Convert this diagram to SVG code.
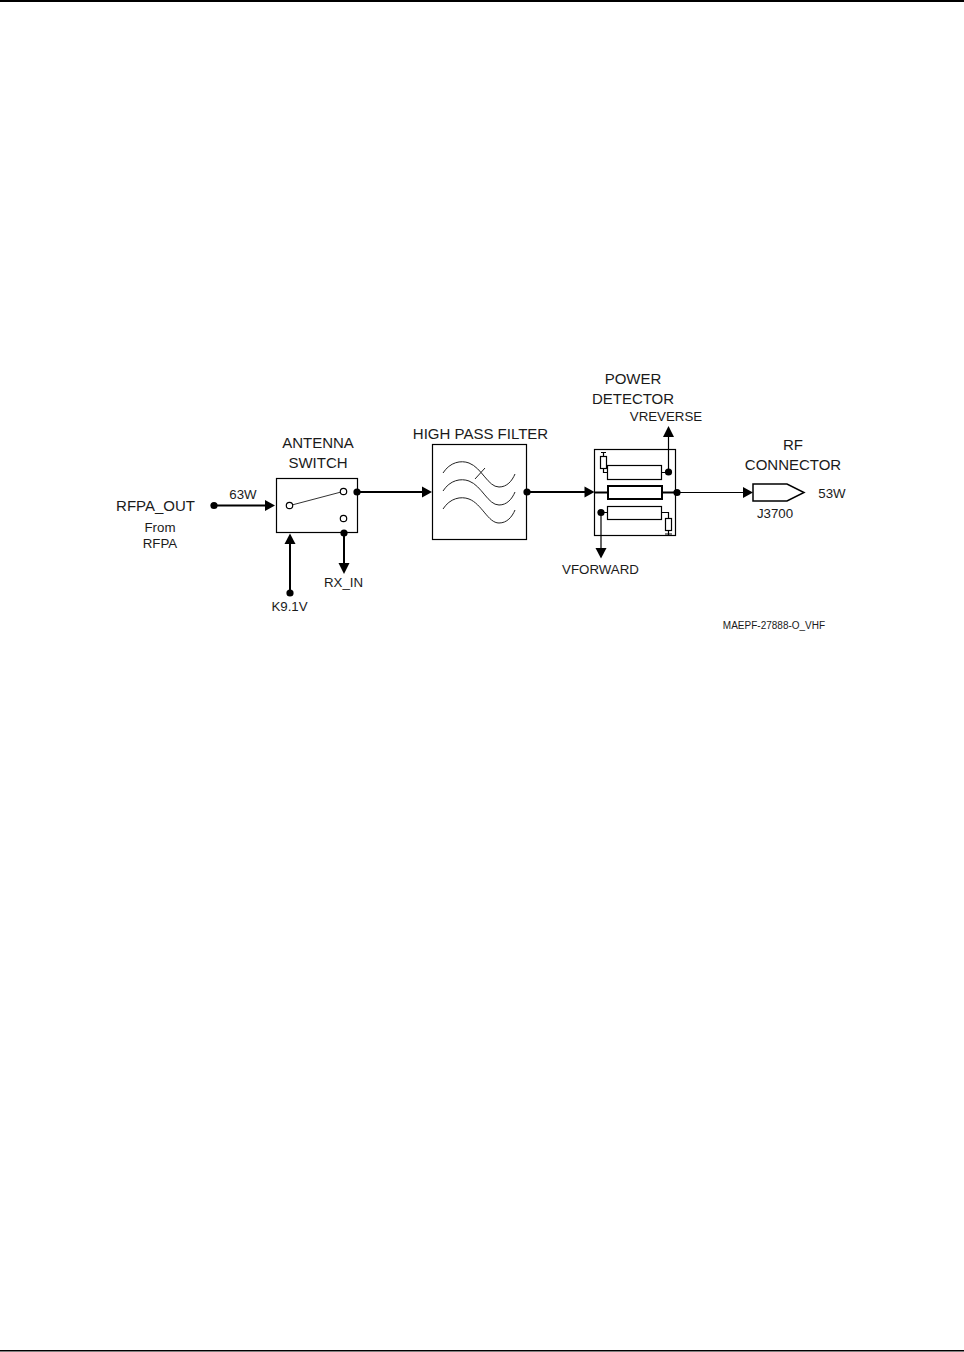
<svg xmlns="http://www.w3.org/2000/svg" width="964" height="1352" viewBox="0 0 964 1352">
<defs>
<style>
text{font-family:"Liberation Sans",Arial,sans-serif;fill:#1a1a1a;text-anchor:middle}
.l{font-size:15px}.m{font-size:14px}.s{font-size:13.3px}.t{font-size:10px}
.box{fill:#fff;stroke:#000;stroke-width:1.2}
.w{fill:none;stroke:#000;stroke-width:2}
.w1{fill:none;stroke:#000;stroke-width:1.2}
.o{fill:#fff;stroke:#000;stroke-width:1.2}
.curve{fill:none;stroke:#222;stroke-width:1}
</style>
<circle id="dot" r="3.6" fill="#000"/>
</defs>
<rect width="964" height="1352" fill="#fff"/>
<g id="page-rules"><rect x="0" y="0" width="964" height="2" fill="#000"/><rect x="0" y="1350" width="964" height="1.5" fill="#000"/></g>

<g id="antenna-switch">
<rect class="box" x="276.500" y="478.500" width="81" height="54"/>
<line x1="290" y1="505.500" x2="343" y2="491.500" stroke="#333" stroke-width="1"/>
<circle class="o" cx="289.500" cy="505.500" r="3.200"/>
<circle class="o" cx="343.500" cy="491.500" r="3.200"/>
<circle class="o" cx="343.500" cy="518.500" r="3.200"/>
<text class="l" x="318" y="447.500">ANTENNA</text>
<text class="l" x="318" y="467.500">SWITCH</text>
</g>

<g id="high-pass-filter">
<rect class="box" x="432.500" y="444.500" width="94" height="95"/>
<path class="curve" d="M443 473C450 462 461 460 469 463C482 468 488 487 499 487C507 487 512 481 515 474"/>
<path class="curve" d="M443 491C450 480 461 478 469 481C482 486 488 505 499 505C507 505 512 499 515 492"/>
<path class="curve" d="M443 509C450 498 461 496 469 499C482 504 488 523 499 523C507 523 512 517 515 510"/>
<line class="curve" x1="475" y1="479" x2="485" y2="468"/>
<text class="l" x="480.500" y="438.500">HIGH PASS FILTER</text>
</g>

<g id="power-detector">
<rect class="box" x="594.500" y="449.500" width="81" height="86"/>
<rect class="w1" x="607.500" y="465.500" width="54" height="14"/>
<rect fill="#fff" stroke="#000" stroke-width="2" x="608" y="486" width="54" height="13"/>
<rect class="w1" x="607.500" y="506.500" width="54" height="13"/>
<rect class="w1" x="600.500" y="456.500" width="6" height="12"/>
<rect class="w1" x="665.500" y="518.500" width="6" height="12"/>
<path class="w1" d="M603.500 452V456.500M603.500 468.500V472.500H607.500M661.500 512.500H668.500V518.500M668.500 530.500V535M665 534H672M601 452.500H606"/>
<text class="l" x="633" y="383.500">POWER</text>
<text class="l" x="633" y="403.500">DETECTOR</text>
</g>

<g id="rf-connector">
<path fill="#fff" stroke="#000" stroke-width="1.500" d="M753 484H787L804 492.500L787 501H753Z"/>
<text class="l" x="793" y="450">RF</text>
<text class="l" x="793" y="470">CONNECTOR</text>
<text class="s" x="775" y="518">J3700</text>
<text class="s" x="832" y="498">53W</text>
</g>

<g id="connectors">
<path class="w" d="M214 505.500H266"/><path d="M275 505.500L265 500V511Z"/><use href="#dot" x="214" y="505.500"/>
<path class="w" d="M290 593V543"/><path d="M290 533.500L284.500 544H295.500Z"/><use href="#dot" x="290" y="593"/>
<path class="w" d="M344 533V565"/><path d="M344 574L338.500 563H349.500Z"/><use href="#dot" x="344" y="533"/>
<path class="w" d="M357 492H423"/><path d="M432 492L422 486.500V497.500Z"/><use href="#dot" x="357" y="492"/>
<path class="w" d="M527 492H586"/><path d="M594.500 492L584.500 486.500V497.500Z"/><use href="#dot" x="527" y="492"/>
<path class="w" d="M595 492.500H608M662 492.500H677"/>
<path class="w1" d="M677 492.500H744"/><path d="M753 492.500L743 487V498Z"/><use href="#dot" x="677" y="492.500"/>
<path class="w1" d="M668.500 472V434M661.500 472.500H668.500"/><path d="M668.500 426L663 437H674Z"/><use href="#dot" x="668.500" y="472"/>
<path class="w1" d="M601 513V550M601 512.500H607.500"/><path d="M601 558.500L595.500 548H606.500Z"/><use href="#dot" x="601" y="512.500"/>
</g>

<g id="labels">
<text class="l" x="155.500" y="511">RFPA_OUT</text>
<text class="s" x="160" y="532">From</text>
<text class="s" x="160" y="548">RFPA</text>
<text class="s" x="243" y="499">63W</text>
<text class="s" x="289.500" y="610.500">K9.1V</text>
<text class="s" x="343.500" y="587">RX_IN</text>
<text class="s" x="666" y="421">VREVERSE</text>
<text class="s" x="600.500" y="573.500">VFORWARD</text>
<text class="t" x="774" y="629">MAEPF-27888-O_VHF</text>
</g>
</svg>
